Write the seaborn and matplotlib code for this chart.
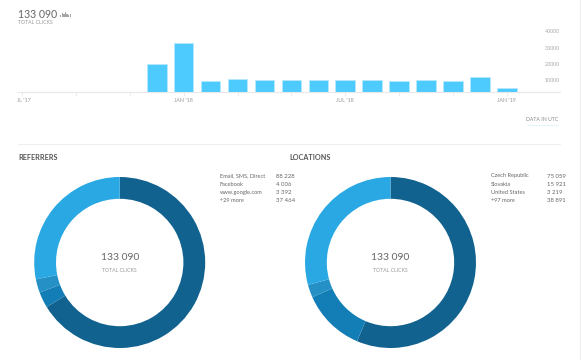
import matplotlib
matplotlib.use("Agg")
import matplotlib.pyplot as plt
from matplotlib.transforms import Bbox
import pandas as pd
import seaborn as sns

months = ["JUL '17","AUG '17","SEP '17","OCT '17","NOV '17","DEC '17","JAN '18","FEB '18","MAR '18","APR '18",
          "MAY '18","JUN '18","JUL '18","AUG '18","SEP '18","OCT '18","NOV '18","DEC '18","JAN '19"]
clicks = [0,0,0,0,0,18400,33300,7200,8500,7800,8100,7800,7800,7800,7200,7500,6900,9900,2400]
y_tick_pos = [7480,18500,29400,40900]
y_tick_labels = ["10000","20000","30000","40000"]
x_tick_pos = [0,2,4,6,8,10,12,14,16,18]
x_tick_labels = ["JUL '17","","","JAN '18","","","JUL '18","","","JAN '19"]

ref_labels = ["Email, SMS, Direct","Facebook","www.google.com","+29 more"]
ref_values = [88228,4006,3392,37464]
ref_text = ["88 228","4 006","3 392","37 464"]
loc_labels = ["Czech Republic","Slovakia","United States","+97 more"]
loc_values = [75059,15921,3219,38891]
loc_text = ["75 059","15 921","3 219","38 891"]
icon_values = [2,4,3,5,3,2,3]
total_text = "133 090"

sns.set_theme(style="white")
plt.rcParams['font.family'] = ['Lato', 'DejaVu Sans']
W, H = 581, 360
fig = plt.figure(figsize=(W/100, H/100), dpi=100, facecolor="white")

def px_axes(x0, y0, x1, y1):
    return fig.add_axes([x0/W, 1-y1/H, (x1-x0)/W, (y1-y0)/H])
def t(x, y, s, size, color, **kw):
    kw.setdefault("va", "center")
    fig.text(x/W, 1-y/H, s, fontsize=size, color=color, **kw)

# bar chart
ax = px_axes(18, 20, 560, 91.5)
df = pd.DataFrame({"month": months, "clicks": clicks})
sns.barplot(data=df, x="month", y="clicks", color="#4DCBFF", saturation=1, width=0.73,
            edgecolor="#B5E8FF", linewidth=0.6, ax=ax)
ax.set_xlim(-0.148, 19.97)
ax.set_ylim(0, 71.5*680)
ax.set_xlabel(""); ax.set_ylabel("")
for s in ["top","left","right"]:
    ax.spines[s].set_visible(False)
ax.spines["bottom"].set_color("#E8E8E8")
ax.spines["bottom"].set_linewidth(0.8)
ax.set_xticks(x_tick_pos)
ax.set_xticklabels(x_tick_labels, fontsize=3.9, color="#999999")
ax.tick_params(axis="x", bottom=True, length=3.2, width=0.6, color="#E8E8E8", pad=1.2)
ax.yaxis.tick_right()
ax.set_yticks(y_tick_pos)
ax.set_yticklabels(y_tick_labels, fontsize=3.9, color="#aaaaaa")
ax.tick_params(axis="y", right=False, length=0, pad=0)
for lab in ax.get_yticklabels():
    lab.set_horizontalalignment("right")
first = ax.get_xticklabels()[0]
first.set_clip_box(Bbox([[17, 0], [W, H]]))
first.set_clip_on(True)

# header
t(18, 14, total_text, 7.6, "#666666")
t(18, 23, "TOTAL CLICKS", 3.7, "#999999")
ia = px_axes(60, 12, 71, 16.5)
sns.barplot(x=list(range(len(icon_values))), y=icon_values, color="#a5a5a5", saturation=1,
            width=0.75, linewidth=0, ax=ia)
ia.axis("off")

t(558, 119.5, "DATA IN UTC", 3.7, "#888888", ha="right")
fig.add_artist(plt.Line2D([527/W, 558/W], [1-124.5/H]*2, color="#BFE4F5", lw=0.6, ls=(0,(1,1))))
fig.add_artist(plt.Line2D([18/W, 560/W], [1-143.5/H]*2, color="#EEEEEE", lw=0.8))
fig.add_artist(plt.Line2D([580/W, 580/W], [0, 1], color="#EEEEEE", lw=1))

t(18, 158, "REFERRERS", 5.2, "#555555", fontweight="bold")
t(289, 158, "LOCATIONS", 5.2, "#555555", fontweight="bold")

def donut(cx, values, colors):
    cy, r = 262.5, 85.5
    a = px_axes(cx-r-1, cy-r-1, cx+r+1, cy+r+1)
    a.pie(values, colors=colors, startangle=90, counterclock=False, radius=r/(r+1),
          wedgeprops=dict(width=21.8/(r+1), edgecolor="none"), center=(0, 0))
    a.set_xlim(-1, 1); a.set_ylim(-1, 1)
    t(cx, 258, total_text, 7.4, "#666666", ha="center")
    t(cx, 270, "TOTAL CLICKS", 3.7, "#999999", ha="center")

donut(119.7, ref_values, ["#11628F","#137DB5","#2490C6","#29A8E3"])
donut(390.5, loc_values, ["#11628F","#137DB5","#2490C6","#29A8E3"])

def legend(x1, x2, labels, vals):
    for i, (l, v) in enumerate(zip(labels, vals)):
        y = 176 + i*8.1
        t(x1, y, l, 4.1, "#666666")
        t(x2, y, v, 4.3, "#666666")

legend(220, 276, ref_labels, ref_text)
legend(491, 547, loc_labels, loc_text)

fig.savefig("out.png", dpi=100, facecolor="white")
